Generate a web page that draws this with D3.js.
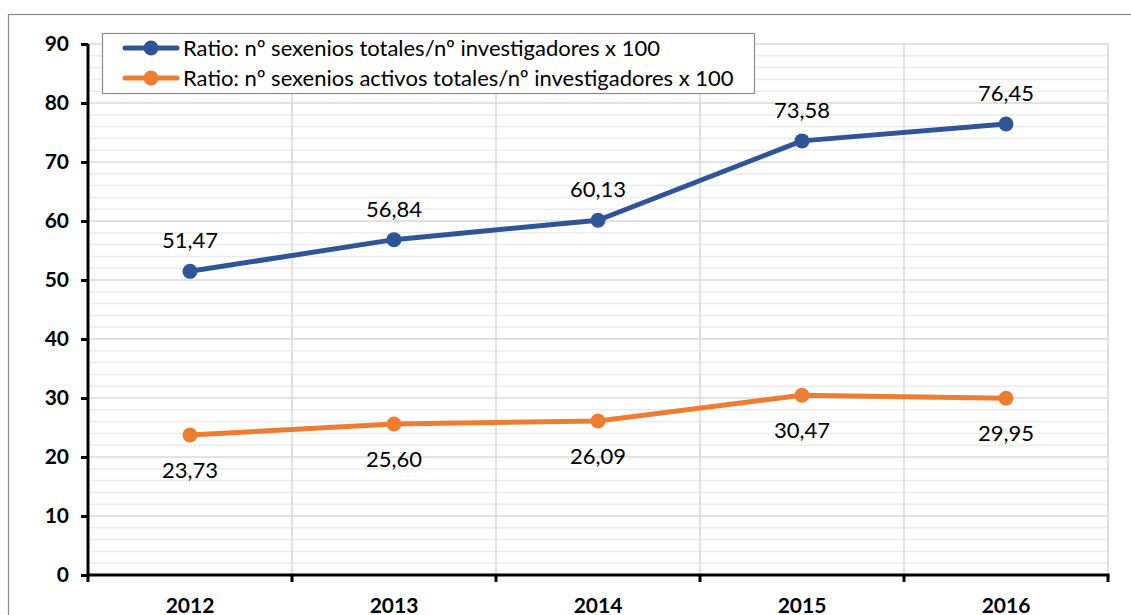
<!DOCTYPE html>
<html>
<head>
<meta charset="utf-8">
<script src="https://cdn.jsdelivr.net/npm/d3@7"></script>
<style>
  html, body { margin: 0; padding: 0; background: #fff; }
  svg { display: block; }
  text { font-family: Lato, "Open Sans", sans-serif; fill: #000; }
</style>
</head>
<body>
<div id="chart"></div>
<script>
// chart data
const years = ["2012", "2013", "2014", "2015", "2016"];
const totalRatio = [51.47, 56.84, 60.13, 73.58, 76.45];
const activeRatio = [23.73, 25.60, 26.09, 30.47, 29.95];
const seriesNames = [
  "Ratio: nº sexenios totales/nº investigadores x 100",
  "Ratio: nº sexenios activos totales/nº investigadores x 100"
];
const yTicks = [0, 10, 20, 30, 40, 50, 60, 70, 80, 90];

const width = 1131, height = 615;
const margin = {top: 44, right: 23, bottom: 40, left: 88};
const innerW = width - margin.left - margin.right;
const innerH = height - margin.top - margin.bottom;

const svg = d3.select("#chart").append("svg")
  .attr("width", width).attr("height", height);

// outer chart border (right and bottom fall outside the picture)
svg.append("rect")
  .attr("x", 8.5).attr("y", 14.5)
  .attr("width", 1140).attr("height", 640)
  .attr("fill", "none").attr("stroke", "#8c8c8c").attr("stroke-width", 1.2);

const g = svg.append("g").attr("transform", `translate(${margin.left},${margin.top})`);

const x = d3.scaleBand().domain(years).range([0, innerW]).padding(0);
const y = d3.scaleLinear().domain([0, 90]).range([innerH, 0]);

// minor gridlines every 2
g.append("g").selectAll("line")
  .data(d3.range(0, 91, 2).filter(v => v % 10 !== 0))
  .join("line")
  .attr("x1", 0).attr("x2", innerW)
  .attr("y1", d => y(d)).attr("y2", d => y(d))
  .attr("stroke", "#ececec").attr("stroke-width", 1.5);

// major gridlines
g.append("g").selectAll("line")
  .data(yTicks.filter(v => v > 0))
  .join("line")
  .attr("x1", 0).attr("x2", innerW)
  .attr("y1", d => y(d)).attr("y2", d => y(d))
  .attr("stroke", "#d9d9d9").attr("stroke-width", 1.5);

// vertical gridlines at category boundaries
g.append("g").selectAll("line")
  .data(years.slice(1).concat(["end"]))
  .join("line")
  .attr("x1", (d, i) => i < years.length - 1 ? x(d) : innerW)
  .attr("x2", (d, i) => i < years.length - 1 ? x(d) : innerW)
  .attr("y1", 0).attr("y2", innerH)
  .attr("stroke", "#d9d9d9").attr("stroke-width", 1.5);

// y axis
const yAxis = g.append("g")
  .call(d3.axisLeft(y).tickValues(yTicks).tickSize(7).tickPadding(12));
yAxis.select(".domain").attr("stroke", "#000").attr("stroke-width", 3)
  .attr("d", `M0,${innerH}V0`);
yAxis.selectAll(".tick line").attr("stroke", "#000").attr("stroke-width", 3);
yAxis.selectAll(".tick text")
  .style("font-family", "Lato, sans-serif")
  .style("font-size", "21px").style("font-weight", "bold").attr("fill", "#000");

// x axis with ticks at category boundaries
const xAxisG = g.append("g").attr("transform", `translate(0,${innerH})`);
xAxisG.append("line").attr("x1", -1.5).attr("x2", innerW + 1.5)
  .attr("stroke", "#000").attr("stroke-width", 3);
xAxisG.selectAll(".xt")
  .data(years.concat(["end"]))
  .join("line").attr("class", "xt")
  .attr("x1", (d, i) => i < years.length ? x(d) : innerW)
  .attr("x2", (d, i) => i < years.length ? x(d) : innerW)
  .attr("y1", 0).attr("y2", 7)
  .attr("stroke", "#000").attr("stroke-width", 3);
xAxisG.selectAll(".xl")
  .data(years)
  .join("text").attr("class", "xl")
  .attr("x", d => x(d) + x.bandwidth() / 2)
  .attr("y", 38)
  .attr("text-anchor", "middle")
  .style("font-size", "21px").style("font-weight", "bold")
  .text(d => d);

const series = [
  {name: seriesNames[0], values: totalRatio, color: "#2f5597", above: true},
  {name: seriesNames[1], values: activeRatio, color: "#ed7d31", above: false}
];

const line = d3.line()
  .x((d, i) => x(years[i]) + x.bandwidth() / 2)
  .y(d => y(d));

const fmt = v => d3.format(".2f")(v).replace(".", ",");

series.forEach(s => {
  g.append("path")
    .datum(s.values)
    .attr("fill", "none")
    .attr("stroke", s.color)
    .attr("stroke-width", 5)
    .attr("stroke-linejoin", "round")
    .attr("stroke-linecap", "round")
    .attr("d", line);

  g.append("g").selectAll("circle")
    .data(s.values)
    .join("circle")
    .attr("cx", (d, i) => x(years[i]) + x.bandwidth() / 2)
    .attr("cy", d => y(d))
    .attr("r", 7.5)
    .attr("fill", s.color);

  g.append("g").selectAll("text")
    .data(s.values)
    .join("text")
    .attr("x", (d, i) => x(years[i]) + x.bandwidth() / 2)
    .attr("y", d => s.above ? y(d) - 23 : y(d) + 43)
    .attr("text-anchor", "middle")
    .style("font-size", "22px")
    .text(d => fmt(d));
});

// legend
const legend = svg.append("g");
legend.append("rect")
  .attr("x", 102.5).attr("y", 33.5)
  .attr("width", 652).attr("height", 60)
  .attr("fill", "#fff").attr("stroke", "#8c8c8c").attr("stroke-width", 1.2);

series.forEach((s, i) => {
  const ly = 48 + i * 30;
  legend.append("line")
    .attr("x1", 125).attr("x2", 177)
    .attr("y1", ly).attr("y2", ly)
    .attr("stroke", s.color).attr("stroke-width", 5)
    .attr("stroke-linecap", "round");
  legend.append("circle")
    .attr("cx", 151).attr("cy", ly).attr("r", 7.5)
    .attr("fill", s.color);
  legend.append("text")
    .attr("x", 183).attr("y", ly + 7.5)
    .style("font-size", "22px")
    .text(s.name);
});
</script>
</body>
</html>
